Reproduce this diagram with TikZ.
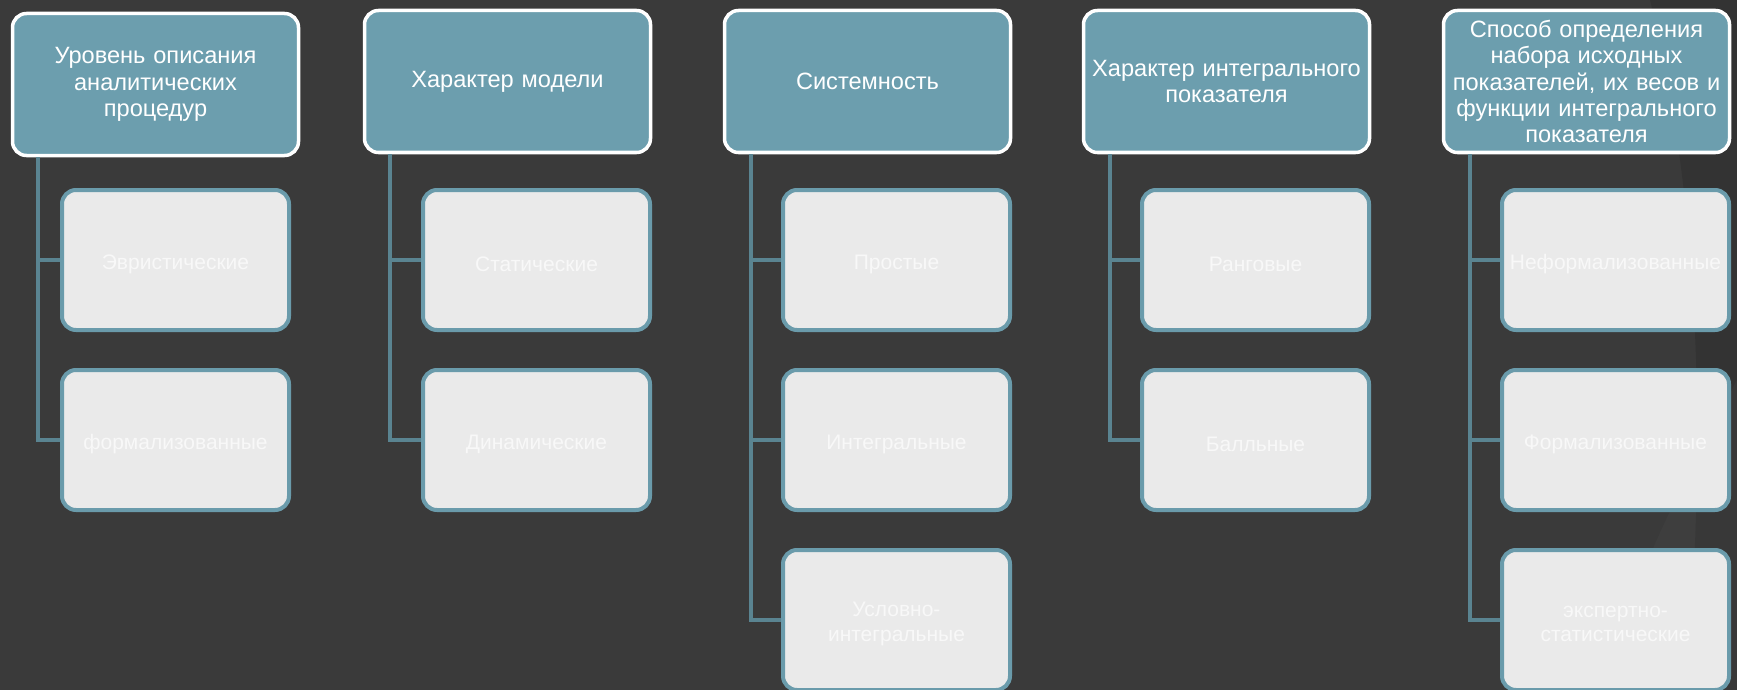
\documentclass[tikz,border=0pt]{standalone}
\usepackage{fontspec}
\setmainfont{Liberation Sans}
\definecolor{bg}{HTML}{3A3A3A}
\definecolor{bgdark}{HTML}{333333}
\definecolor{hdr}{HTML}{6C9EAE}
\definecolor{cborder}{HTML}{6A9BAB}
\definecolor{cfill}{HTML}{EAEAEA}
\definecolor{conn}{HTML}{5A8491}
\definecolor{ctext}{HTML}{F8F8F8}
\tikzset{
  header/.style={draw=white, line width=3.5pt, fill=hdr, rounded corners=14pt,
    minimum width=286pt, minimum height=142pt, text width=284pt, align=center,
    inner sep=0pt, anchor=north west, text=white, font=\fontsize{23.6}{26.2}\selectfont},
  child/.style={draw=cborder, line width=4pt, fill=cfill, rounded corners=14pt,
    minimum width=227pt, minimum height=140pt, inner sep=0pt, anchor=north west},
  ctxt/.style={draw=none, fill=none, text width=227pt, align=center, inner sep=0pt,
    yshift=-4pt, text=ctext, font=\fontsize{21}{24.5}\selectfont},
  connector/.style={draw=conn, line width=3.5pt}
}
\begin{document}
\begin{tikzpicture}[x=1pt,y=-1pt]
\fill[bg] (0,0) rectangle (1737,690);
\useasboundingbox (0,0) rectangle (1737,690);
\fill[bgdark] (1650,0) .. controls (1705,220) and (1705,480) .. (1685,690) -- (1737,690) -- (1737,0) -- cycle;
\fill[bg!92!white, opacity=0.25] (1737,380) .. controls (1690,470) and (1640,560) .. (1600,690) -- (1737,690) -- cycle;

% column 1
\node[header] (h1) at (10.75,11.75) {Уровень описания\\аналитических\\процедур};
\node[child, label={[ctxt]center:Эвристические}] (c11) at (60,188) {};
\node[child, label={[ctxt]center:формализованные}] (c12) at (60,368) {};
\coordinate (l1) at (38,0);
\draw[connector] (l1 |- h1.south) |- (c12.west);
\draw[connector] (l1 |- c11.west) -- (c11.west);

% column 2
\node[header] (h2) at (362.75,8.75) {Характер модели};
\node[child, label={[ctxt]center:Статические}] (c21) at (421,188) {};
\node[child, label={[ctxt]center:Динамические}] (c22) at (421,368) {};
\coordinate (l2) at (390,0);
\draw[connector] (l2 |- h2.south) |- (c22.west);
\draw[connector] (l2 |- c21.west) -- (c21.west);

% column 3
\node[header] (h3) at (722.75,8.75) {Системность};
\node[child, label={[ctxt]center:Простые}] (c31) at (781,188) {};
\node[child, label={[ctxt]center:Интегральные}] (c32) at (781,368) {};
\node[child, label={[ctxt]center:{Условно-\\интегральные}}] (c33) at (781,548) {};
\coordinate (l3) at (751,0);
\draw[connector] (l3 |- h3.south) |- (c33.west);
\draw[connector] (l3 |- c31.west) -- (c31.west);
\draw[connector] (l3 |- c32.west) -- (c32.west);

% column 4
\node[header] (h4) at (1081.75,8.75) {Характер интегрального\\показателя};
\node[child, label={[ctxt]center:Ранговые}] (c41) at (1140,188) {};
\node[child, label={[ctxt]center:Балльные}] (c42) at (1140,368) {};
\coordinate (l4) at (1110,0);
\draw[connector] (l4 |- h4.south) |- (c42.west);
\draw[connector] (l4 |- c41.west) -- (c41.west);

% column 5
\node[header] (h5) at (1441.75,8.75) {Способ определения\\набора исходных\\показателей, их весов и\\функции интегрального\\показателя};
\node[child, label={[ctxt]center:Неформализованные}] (c51) at (1500,188) {};
\node[child, label={[ctxt]center:Формализованные}] (c52) at (1500,368) {};
\node[child, label={[ctxt]center:{экспертно-\\статистические}}] (c53) at (1500,548) {};
\coordinate (l5) at (1470,0);
\draw[connector] (l5 |- h5.south) |- (c53.west);
\draw[connector] (l5 |- c51.west) -- (c51.west);
\draw[connector] (l5 |- c52.west) -- (c52.west);
\end{tikzpicture}
\end{document}
